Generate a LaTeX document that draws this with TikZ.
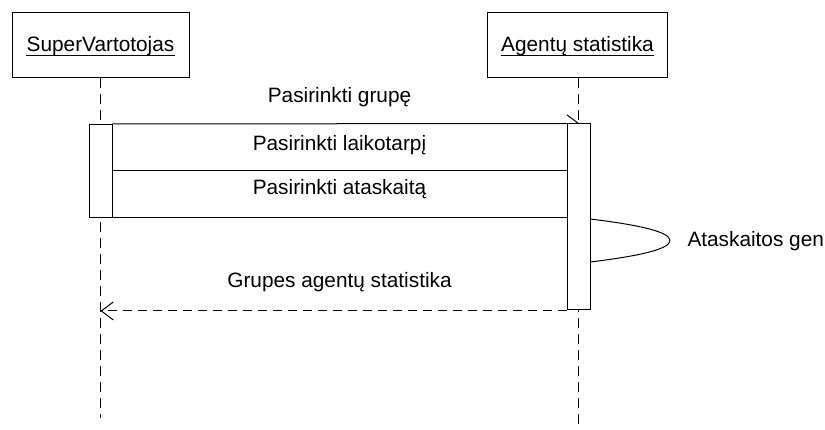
\documentclass[tikz,border=0pt]{standalone}
\usepackage{fontspec}
\setmainfont{Liberation Sans}
\usetikzlibrary{arrows.meta}
\begin{document}
\begin{tikzpicture}[x=1pt,y=-1pt,line width=1pt,
  font=\fontsize{20.8}{24}\selectfont,
  objbox/.style={draw,fill=white,minimum width=#1,minimum height=65pt,inner sep=0pt},
  actbar/.style={draw,fill=white,minimum width=23pt,inner sep=0pt},
  lifeline/.style={dash pattern=on 10pt off 6pt},
  msglabel/.style={anchor=base,inner sep=0pt},
  uline/.style={line width=0.9pt},
  retmsg/.style={dash pattern=on 9pt off 6pt,-{Straight Barb[length=12pt,width=18pt,line width=1pt]}}]
\useasboundingbox (0,0) rectangle (825,430);
% objects
\node[objbox=177pt] (sv) at (100.5,45) {};
\node[msglabel] (svt) at (100.5,52) {SuperVartotojas};
\draw[uline] ([yshift=-3pt]svt.base west) -- ([yshift=-3pt]svt.base east);
\node[objbox=180pt] (as) at (577.5,45) {};
\node[msglabel] (ast) at (577.5,52) {Agentų statistika};
\draw[uline] ([yshift=-3pt]ast.base west) -- ([yshift=-3pt]ast.base east);
% lifelines
\coordinate (svend) at (100.5,418);
\coordinate (asend) at (578.5,432);
\draw[lifeline] (sv.south) -- (svend);
\draw[lifeline] (as.south -| asend) -- (asend);
% activation bars
\node[actbar,minimum height=93pt] (b1) at (100.5,171) {};
\node[actbar,minimum height=186pt] (b2) at (578.5,217) {};
% messages
\draw (b1.north east) -- (b2.north west);
\coordinate (tick) at (567,115);
\draw (tick) -- (b2.north);
\node[msglabel] (m1) at (339.5,103) {Pasirinkti grupę};
\draw (b1.east) -- (b2.west |- b1.east);
\node[msglabel] (m2) at (339.5,151) {Pasirinkti laikotarpį};
\draw (b1.south east) -- (b2.west |- b1.south);
\node[msglabel] (m3) at (339.5,195) {Pasirinkti ataskaitą};
% self message
\coordinate (sa) at (590,219);
\coordinate (sb) at (590,262);
\coordinate (stip) at (670,240.5);
\draw (sa) .. controls (640,225) and (670,232) .. (stip) .. controls (670,249) and (640,256) .. (sb);
\node[anchor=base west,inner sep=0pt] (selflbl) at (687,247) {Ataskaitos gen};
% return
\coordinate (rs) at (567,311);
\draw[retmsg] (rs) -- (rs -| svend);
\node[msglabel] (m4) at (339.5,288) {Grupes agentų statistika};
\end{tikzpicture}
\end{document}
